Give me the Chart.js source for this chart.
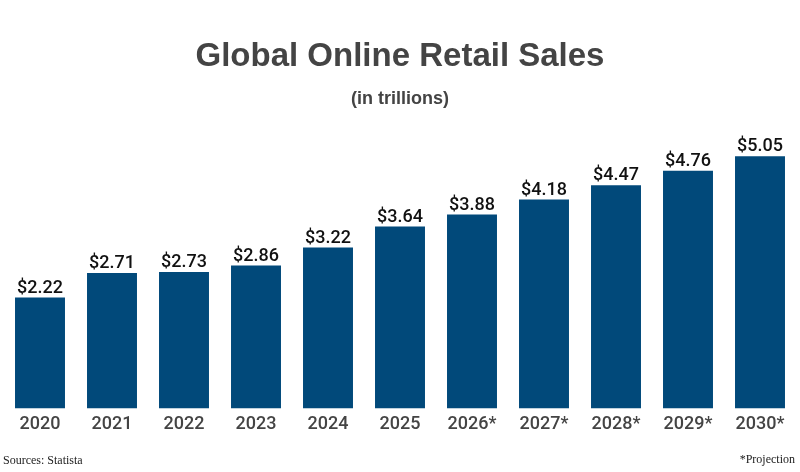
<!DOCTYPE html>
<html>
<head>
<meta charset="utf-8">
<script src="https://cdn.jsdelivr.net/npm/chart.js@4"></script>
<style>
html,body{margin:0;padding:0;background:#fff;}
#wrap{width:800px;height:472px;position:relative;}
</style>
</head>
<body>
<div id="wrap"><canvas id="c"></canvas></div>
<script>
const categories = ['2020','2021','2022','2023','2024','2025','2026*','2027*','2028*','2029*','2030*'];
const salesTrillions = [2.22, 2.71, 2.73, 2.86, 3.22, 3.64, 3.88, 4.18, 4.47, 4.76, 5.05];
const titleText = 'Global Online Retail Sales';
const subtitleText = '(in trillions)';
const sourceText = 'Sources: Statista';
const noteText = '*Projection';

const valueLabels = {
  id: 'valueLabels',
  afterDatasetsDraw(chart) {
    const ctx = chart.ctx;
    const meta = chart.getDatasetMeta(0);
    ctx.save();
    ctx.font = '500 18px Roboto';
    ctx.fillStyle = '#111';
    ctx.textAlign = 'center';
    ctx.textBaseline = 'alphabetic';
    meta.data.forEach((bar, i) => {
      ctx.fillText('$' + chart.data.datasets[0].data[i].toFixed(2), bar.x, bar.y - 5);
    });
    ctx.restore();
  },
  afterDraw(chart) {
    const ctx = chart.ctx;
    ctx.save();
    ctx.font = '12px "Liberation Serif"';
    ctx.fillStyle = '#222';
    ctx.textBaseline = 'alphabetic';
    ctx.textAlign = 'left';
    ctx.fillText(sourceText, 3, 464);
    ctx.textAlign = 'right';
    ctx.fillText(noteText, 795, 463);
    ctx.restore();
  }
};

new Chart(document.getElementById('c'), {
  type: 'bar',
  data: {
    labels: categories,
    datasets: [{
      data: salesTrillions,
      backgroundColor: '#01497a',
      borderWidth: 0,
      categoryPercentage: 1.0,
      barPercentage: 0.694
    }]
  },
  options: {
    responsive: true,
    maintainAspectRatio: false,
    animation: false,
    devicePixelRatio: 1,
    layout: { padding: { left: 4, right: 4, top: 0, bottom: 32 } },
    plugins: {
      legend: { display: false },
      tooltip: { enabled: false },
      title: {
        display: true,
        text: titleText,
        color: '#444',
        font: { family: '"Liberation Sans", Arial, sans-serif', size: 33, weight: 'bold' },
        padding: { top: 37, bottom: 12 }
      },
      subtitle: {
        display: true,
        text: subtitleText,
        color: '#444',
        font: { family: '"Liberation Sans", Arial, sans-serif', size: 18, weight: 'bold' },
        padding: { top: 0, bottom: 9 }
      }
    },
    scales: {
      x: {
        grid: { display: false, drawTicks: false },
        border: { display: false },
        ticks: {
          color: '#444',
          padding: 5,
          font: { family: 'Roboto', size: 18, weight: '500' }
        }
      },
      y: {
        display: false,
        min: 0,
        max: 5.79
      }
    }
  },
  plugins: [valueLabels]
});
</script>
</body>
</html>
